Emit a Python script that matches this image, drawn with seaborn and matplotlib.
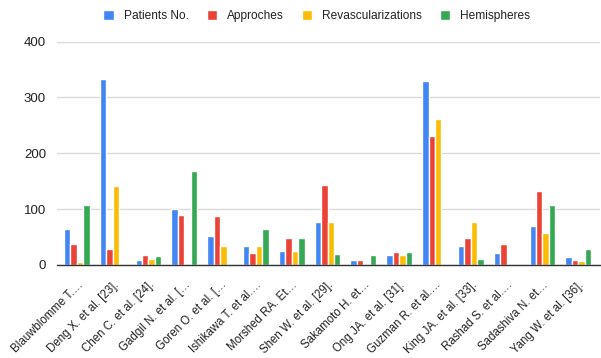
import matplotlib
matplotlib.use("Agg")
import matplotlib.pyplot as plt
import seaborn as sns
import pandas as pd

studies = ["Blauwblomme T.…", "Deng X. et al. [23].", "Chen C. et al. [24].",
           "Gadgil N. et al. […", "Goren O. et al. […", "Ishikawa T. et al.…",
           "Morshed RA. Et…", "Shen W. et al. [29].", "Sakamoto H. et…",
           "Ong JA. et al. [31].", "Guzman R. et al.…", "King JA. et al. [33].",
           "Rashad S. et al.…", "Sadashiva N. et…", "Yang W. et al. [36]."]
patients = [64, 333, 9, 100, 52, 33, 25, 77, 9, 17, 329, 33, 22, 70, 14]
approches = [38, 29, 18, 89, 87, 22, 49, 143, 9, 24, 231, 49, 38, 132, 9]
revasc = [5, 142, 11, 0, 33, 33, 25, 77, 0, 17, 262, 77, 0, 57, 7]
hemispheres = [107, 0, 16, 168, 0, 64, 49, 20, 18, 24, 0, 10, 0, 108, 28]
series_names = ["Patients No.", "Approches", "Revascularizations", "Hemispheres"]
colors = ["#4285F4", "#EA4335", "#FBBC04", "#34A853"]

rows = []
for name, vals in zip(series_names, [patients, approches, revasc, hemispheres]):
    for s, v in zip(studies, vals):
        rows.append({"Study": s, "Series": name, "Value": v})
df = pd.DataFrame(rows)

sns.set_theme(style="white")
plt.rcParams["font.family"] = ["Liberation Sans", "DejaVu Sans"]

fig = plt.figure(figsize=(6.01, 3.58), dpi=100)
ax = fig.add_axes([0.095, 0.26, 0.903, 0.624])
sns.barplot(data=df, x="Study", y="Value", hue="Series", palette=colors,
            width=0.72, ax=ax, saturation=1)

ax.set_ylim(0, 400)
ax.set_xlim(-0.55, 14.6)
ax.set_yticks([0, 100, 200, 300, 400])
ax.yaxis.grid(True, color="#d9d9d9", linewidth=1)
ax.set_axisbelow(True)
for sp in ["top", "right", "left"]:
    ax.spines[sp].set_visible(False)
ax.spines["bottom"].set_color("#333333")
ax.spines["bottom"].set_linewidth(1)
ax.set_xlabel("")
ax.set_ylabel("")
ax.tick_params(axis="y", labelsize=9.5, colors="#222222", length=0, pad=8)
ax.tick_params(axis="x", length=0, pad=10)
ax.set_xticks(range(len(studies)))
ax.set_xticklabels(studies, rotation=45, ha="right", rotation_mode="anchor",
                   fontsize=8.3, color="#222222")

handles, labels = ax.get_legend_handles_labels()
leg = ax.legend(handles, labels, loc="center", ncol=4, frameon=False,
                fontsize=8.6, handlelength=0.9, handleheight=0.9,
                columnspacing=1.5, handletextpad=0.8,
                bbox_to_anchor=(0.527, 0.955), bbox_transform=fig.transFigure)
for t in leg.get_texts():
    t.set_color("#222222")

fig.savefig("out.png", dpi=100)
